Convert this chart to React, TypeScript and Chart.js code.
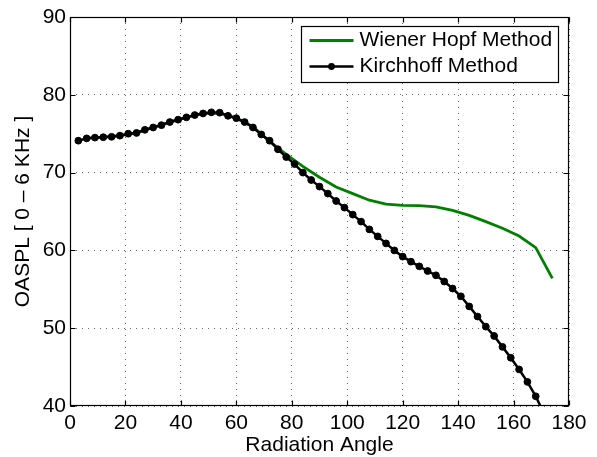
import React, { useEffect, useRef } from "react";
import { Chart, registerables } from "chart.js";

Chart.register(...registerables);

// ---- Data ----
const wienerAngles = [6, 12, 18, 24, 30, 36, 42, 48, 54, 60, 66, 72, 78, 84, 90, 96, 102, 108, 114, 120, 126, 132, 138, 144, 150, 156, 162, 168, 174];
const wienerValues = [74.4, 74.55, 74.75, 75.1, 75.8, 76.5, 77.1, 77.6, 77.65, 77.0, 75.9, 74.0, 72.35, 70.8, 69.4, 68.15, 67.3, 66.45, 65.95, 65.8, 65.75, 65.6, 65.15, 64.5, 63.7, 62.85, 61.85, 60.35, 56.4];

const kirchhoffAngles = [3, 6, 9, 12, 15, 18, 21, 24, 27, 30, 33, 36, 39, 42, 45, 48, 51, 54, 57, 60, 63, 66, 69, 72, 75, 78, 81, 84, 87, 90, 93, 96, 99, 102, 105, 108, 111, 114, 117, 120, 123, 126, 129, 132, 135, 138, 141, 144, 147, 150, 153, 156, 159, 162, 165, 168, 171];
const kirchhoffValues = [74.1, 74.4, 74.5, 74.55, 74.6, 74.75, 75.0, 75.1, 75.5, 75.8, 76.1, 76.5, 76.8, 77.1, 77.4, 77.6, 77.75, 77.7, 77.3, 77.0, 76.5, 75.8, 74.9, 74.1, 73.0, 72.0, 71.1, 70.0, 69.05, 68.2, 67.3, 66.35, 65.5, 64.6, 63.7, 62.7, 61.8, 60.9, 60.0, 59.2, 58.55, 57.95, 57.35, 56.8, 56.0, 55.1, 54.1, 52.8, 51.5, 50.2, 49.0, 47.6, 46.2, 44.7, 43.1, 41.25, 39.0];

const seriesLabels = ["Wiener Hopf Method", "Kirchhoff Method"];
const xTitle = "Radiation Angle";
const yTitle = "OASPL [ 0 – 6 KHz ]";
const xRange = [0, 180];
const yRange = [40, 90];
const xStep = 20;
const yStep = 10;

const FONT = '"Liberation Sans", Arial, Helvetica, sans-serif';
const FS = 21;

const framePlugin = {
  id: "matlabFrame",
  afterDatasetsDraw(chart: any) {
    const { ctx, chartArea: a, scales } = chart;
    const L = Math.round(a.left) + 0.5;
    const R = Math.round(a.right) - 0.5;
    const T = Math.round(a.top) + 0.5;
    const B = Math.round(a.bottom) - 0.5;
    ctx.save();
    ctx.strokeStyle = "#000";
    ctx.lineWidth = 1.2;
    ctx.setLineDash([]);
    ctx.strokeRect(L, T, R - L, B - T);
    const tl = 5;
    ctx.beginPath();
    scales.x.ticks.forEach((t: any) => {
      const px = Math.round(scales.x.getPixelForValue(t.value)) + 0.5;
      ctx.moveTo(px, B);
      ctx.lineTo(px, B - tl);
      ctx.moveTo(px, T);
      ctx.lineTo(px, T + tl);
    });
    scales.y.ticks.forEach((t: any) => {
      const py = Math.round(scales.y.getPixelForValue(t.value)) + 0.5;
      ctx.moveTo(L, py);
      ctx.lineTo(L + tl, py);
      ctx.moveTo(R, py);
      ctx.lineTo(R - tl, py);
    });
    ctx.stroke();

    // Legend
    ctx.font = `${FS}px ${FONT}`;
    const items = chart.data.datasets.map((ds: any) => ({
      label: ds.label,
      color: ds.borderColor,
      width: ds.borderWidth,
      marker: ds.pointRadius > 0,
      radius: ds.pointRadius,
    }));
    const textW = Math.max(...items.map((i: any) => ctx.measureText(i.label).width));
    const padL = 8, sampleLen = 44, gap = 6, padR = 6, rowH = 26, padT = 14;
    const w = Math.round(padL + sampleLen + gap + textW + padR);
    const h = items.length * rowH + 4;
    const x = Math.round(a.right - 11 - w) + 0.5;
    const y = Math.round(a.top + 9) + 0.5;
    ctx.fillStyle = "#fff";
    ctx.fillRect(x, y, w, h);
    ctx.strokeStyle = "#000";
    ctx.lineWidth = 1.2;
    ctx.strokeRect(x, y, w, h);
    items.forEach((it: any, i: number) => {
      const cy = y + padT + i * rowH;
      ctx.strokeStyle = it.color;
      ctx.lineWidth = it.width;
      ctx.beginPath();
      ctx.moveTo(x + padL, cy);
      ctx.lineTo(x + padL + sampleLen, cy);
      ctx.stroke();
      if (it.marker) {
        ctx.fillStyle = it.color;
        ctx.beginPath();
        ctx.arc(x + padL + sampleLen / 2, cy, it.radius, 0, Math.PI * 2);
        ctx.fill();
      }
      ctx.fillStyle = "#000";
      ctx.textBaseline = "middle";
      ctx.textAlign = "left";
      ctx.fillText(it.label, x + padL + sampleLen + gap, cy);
    });
    ctx.restore();
  },
};

export default function App() {
  const ref = useRef<HTMLCanvasElement | null>(null);
  useEffect(() => {
    if (!ref.current) return;
    const gridCommon = {
      color: "rgba(0,0,0,0.6)",
      lineWidth: 1,
      drawTicks: false,
    };
    const chart = new Chart(ref.current, {
      type: "line",
      data: {
        datasets: [
          {
            label: seriesLabels[0],
            data: wienerAngles.map((a, i) => ({ x: a, y: wienerValues[i] })),
            borderColor: "#008000",
            backgroundColor: "#008000",
            borderWidth: 2.8,
            pointRadius: 0,
            tension: 0,
            order: 2,
          },
          {
            label: seriesLabels[1],
            data: kirchhoffAngles.map((a, i) => ({ x: a, y: kirchhoffValues[i] })),
            borderColor: "#000",
            backgroundColor: "#000",
            borderWidth: 2.5,
            pointRadius: 3.4,
            pointBorderWidth: 1,
            pointBackgroundColor: "#000",
            pointBorderColor: "#000",
            tension: 0,
            order: 1,
          },
        ],
      },
      options: {
        animation: false,
        responsive: false,
        layout: { padding: { left: 0, top: 17, right: 28, bottom: 0 } },
        plugins: { legend: { display: false }, tooltip: { enabled: false } },
        scales: {
          x: {
            type: "linear",
            min: xRange[0],
            max: xRange[1],
            grid: { ...gridCommon },
            border: { display: false, dash: [1, 5] },
            ticks: { stepSize: xStep, color: "#000", padding: 5, font: { family: FONT, size: FS }, maxRotation: 0 },
            title: {
              display: true,
              text: xTitle,
              color: "#000",
              font: { family: FONT, size: FS, lineHeight: 1 },
              padding: { top: 0, bottom: 1.3 },
            },
            afterFit: (s: any) => {
              s.height = 51;
            },
          },
          y: {
            type: "linear",
            min: yRange[0],
            max: yRange[1],
            grid: { ...gridCommon },
            border: { display: false, dash: [1, 5] },
            ticks: { stepSize: yStep, color: "#000", padding: 4, font: { family: FONT, size: FS } },
            title: {
              display: true,
              text: yTitle,
              color: "#000",
              font: { family: FONT, size: FS, lineHeight: 1 },
              padding: { top: 12.8, bottom: 0 },
            },
            afterFit: (s: any) => {
              s.width = 70;
            },
          },
        },
      },
      plugins: [framePlugin],
    } as any);
    return () => chart.destroy();
  }, []);
  return (
    <div style={{ position: "absolute", left: 0, top: 0, width: 597, height: 457, background: "#fff" }}>
      <canvas ref={ref} width={597} height={457} style={{ display: "block" }} />
    </div>
  );
}
